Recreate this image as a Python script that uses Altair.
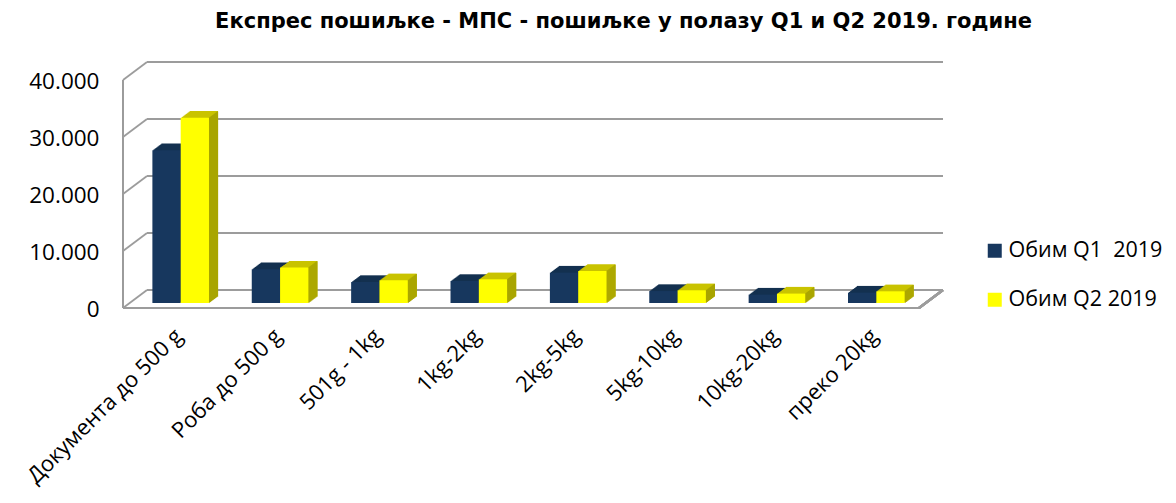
import altair as alt
import pandas as pd

# ---------------- data ----------------
categories = ["Документа до 500 g", "Роба до 500 g", "501g - 1kg", "1kg-2kg",
              "2kg-5kg", "5kg-10kg", "10kg-20kg", "преко 20kg"]
series_names = ["Обим Q1\u00a0 2019", "Обим Q2 2019"]
q1_values = [26800, 5910, 3680, 3860, 5330, 2100, 1470, 1820]
q2_values = [32500, 6210, 3980, 4160, 5610, 2230, 1650, 2050]
y_ticks = [0, 10000, 20000, 30000, 40000]

front_colors = ["#17375E", "#FFFF00"]
top_colors = ["#13304F", "#C9C300"]
side_colors = ["#0F2640", "#A9A500"]
grid_color = "#9C9C9C"
title_text = "Експрес пошиљке - МПС - пошиљке у полазу Q1 и Q2 2019. године"

rows = []
for c, a, b in zip(categories, q1_values, q2_values):
    rows.append({"cat": c, "series": series_names[0], "value": a})
    rows.append({"cat": c, "series": series_names[1], "value": b})
df = pd.DataFrame(rows)
ticks_df = pd.DataFrame({"v": y_ticks})

# ---------------- geometry / style (pixels) ----------------
W, H = 795, 228
BAR_W = 28.3
DEPTH_X, DEPTH_Y = 9.0, 6.7
NSTEP = 9
FRONT_X, BACK_X = -8, 16          # left wall: front / back x
FRONT_DY, BACK_DY = 5, -13        # plane offsets relative to the bars' plane
FLOOR_RIGHT_FRONT, BACK_RIGHT = 788, 812
FONT = "Open Sans"

xscale = alt.Scale(domain=categories, paddingInner=0, paddingOuter=0)
xaxis = alt.Axis(title=None, labelAngle=-45, labelAlign="right", labelBaseline="middle",
                 labelPadding=29, labelOffset=-2, labelFont=FONT, labelFontSize=22,
                 labelColor="black", domain=False, ticks=False, tickSize=0, grid=False,
                 labelLimit=400)
yscale = alt.Scale(domain=[0, 40000], nice=False, zero=True)
yaxis = alt.Axis(title=None, values=y_ticks,
                 labelExpr="replace(format(datum.value, ',d'), ',', '.')",
                 labelFont=FONT, labelFontSize=22.5, labelColor="black", labelPadding=32,
                 labelOffset=6, domain=False, ticks=False, tickSize=0, grid=False)

X = alt.X("cat:N", sort=categories, scale=xscale, axis=xaxis)
Y = alt.Y("value:Q", scale=yscale, axis=yaxis)

layers = []

# back wall gridlines
layers.append(
    alt.Chart(ticks_df).mark_rule(color=grid_color, strokeWidth=1.8, yOffset=BACK_DY)
    .encode(y=alt.Y("v:Q", scale=yscale, axis=yaxis), x=alt.value(BACK_X), x2=alt.value(BACK_RIGHT))
)
# left wall diagonals
layers.append(
    alt.Chart(ticks_df).mark_rule(color=grid_color, strokeWidth=1.8, yOffset=FRONT_DY, y2Offset=BACK_DY)
    .encode(y=alt.Y("v:Q", scale=yscale, axis=yaxis), y2="v:Q", x=alt.value(FRONT_X), x2=alt.value(BACK_X))
)
# left wall front vertical edge
layers.append(
    alt.Chart(ticks_df).mark_rule(color=grid_color, strokeWidth=1.8, yOffset=FRONT_DY, y2Offset=FRONT_DY)
    .encode(y=alt.datum(0), y2=alt.datum(40000), x=alt.value(FRONT_X))
)
# floor front edge
layers.append(
    alt.Chart(ticks_df).mark_rule(color=grid_color, strokeWidth=2.2, yOffset=FRONT_DY)
    .encode(y=alt.datum(0), x=alt.value(FRONT_X), x2=alt.value(FLOOR_RIGHT_FRONT))
)
# floor right edge
layers.append(
    alt.Chart(ticks_df).mark_rule(color=grid_color, strokeWidth=2.2, yOffset=FRONT_DY, y2Offset=BACK_DY)
    .encode(y=alt.datum(0), y2=alt.datum(0), x=alt.value(FLOOR_RIGHT_FRONT), x2=alt.value(BACK_RIGHT))
)

base = alt.Chart(df)
for i, name in enumerate(series_names):
    shift = -BAR_W / 2 if i == 0 else BAR_W / 2
    sub = base.transform_filter(alt.FieldEqualPredicate(field="series", equal=name))
    # top face (stacked shifted copies)
    for k in range(1, NSTEP + 1):
        fx = k * DEPTH_X / NSTEP
        fy = -k * DEPTH_Y / NSTEP
        layers.append(
            sub.mark_bar(width=BAR_W, xOffset=shift + fx, yOffset=fy, y2Offset=fy,
                         color=top_colors[i])
            .encode(x=X, y=Y)
        )
    # side face
    for k in range(NSTEP):
        fx = (k + 0.5) * DEPTH_X / NSTEP
        fy = -(k + 0.5) * DEPTH_Y / NSTEP
        layers.append(
            sub.mark_rule(xOffset=shift + BAR_W / 2 + fx, yOffset=fy, y2Offset=fy,
                          strokeWidth=1.3, color=side_colors[i])
            .encode(x=X, y=Y, y2=alt.datum(0))
        )
    # front face
    layers.append(
        sub.mark_bar(width=BAR_W, xOffset=shift)
        .encode(
            x=X, y=Y,
            color=alt.Color("series:N",
                            scale=alt.Scale(domain=series_names, range=front_colors),
                            legend=alt.Legend(title=None, orient="none", legendX=853, legendY=165,
                                              symbolType="square", symbolSize=196,
                                              symbolStrokeWidth=0, labelFont=FONT,
                                              labelFontSize=21.5, labelColor="black",
                                              rowPadding=26, labelOffset=3, padding=0)),
        )
    )

chart = alt.layer(*layers).properties(
    width=W, height=H,
    padding={"left": 123, "top": 67, "right": 240, "bottom": 190},
    autosize=alt.AutoSizeParams(type="none"),
    title=alt.TitleParams(text=title_text, font="DejaVu Sans", fontSize=21, fontWeight="bold",
                          color="black", anchor="middle", frame="group", dx=95,
                          baseline="alphabetic", offset=12),
).configure_view(stroke=None)

chart.save("out.html", embed_options={"renderer": "svg", "actions": False})
